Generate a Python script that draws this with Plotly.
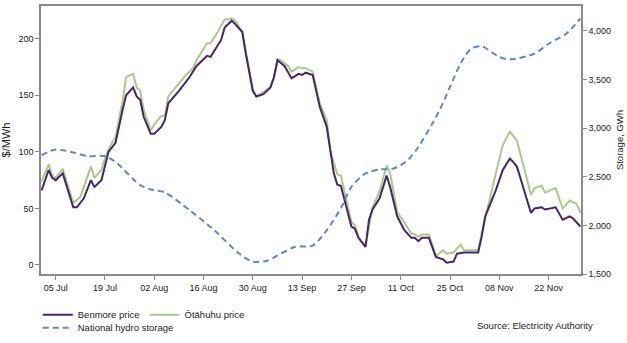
import pandas as pd
import plotly.graph_objects as go

BASE = "2024-07-01"

# Benmore price ($/MWh): day offsets from 1 Jul and values
benmore_day = [0,2,3,4,6,8,9,10,12,14,15,17,18,19,21,22,23,24,26,27,28,29,31,32,34,35,36,39,42,44,
               47,48,51,52,54,55,57,58,60,61,63,65,66,67,69,71,73,74,75,77,79,81,82,83,84,85,88,89,90,92,
               93,94,96,98,99,101,103,105,106,107,108,110,112,114,115,117,118,120,124,125,126,129,131,133,134,135,139,140,142,143,
               146,148,150,151,153]
benmore_val = [66,84,77,75,81,60,51,51,59,75,69,75,87,100,108,124,137,150,157,149,146,131,116,116,122,128,143,154,166,176,
               185,184,199,210,216,213,206,187,154,149,151,157,166,181,176,165,169,168,170,168,140,122,101,81,71,70,34,32,24,16,
               40,49,59,79,69,43,31,24,24,21,24,24,7,5,2,3,10,11,11,25,43,66,84,94,91,87,46,50,51,49,
               51,40,43,41,34]

# Ōtāhuhu price ($/MWh)
otahuhu_day = [0,2,3,4,6,8,9,11,14,15,17,18,19,20,21,23,24,26,27,28,
               29,31,32,34,35,36,38,41,43,44,47,48,50,52,54,55,57,58,60,61,
               65,66,67,68,70,71,73,74,75,77,79,81,82,84,85,88,89,90,92,94,
               96,98,99,101,105,106,107,108,110,112,114,115,117,119,120,124,125,129,131,133,
               135,139,140,142,143,146,148,150,152,153]
otahuhu_val = [74,89,79,77,85,65,55,60,87,77,84,94,102,108,113,145,166,169,157,154,
               137,119,124,132,132,149,157,168,174,181,196,196,206,217,218,216,206,188,154,149,
               157,166,182,181,176,171,175,174,174,171,143,128,101,80,79,38,35,25,16,51,
               65,88,81,47,28,27,25,27,27,8,13,10,11,18,13,13,28,81,106,118,
               110,62,68,70,64,68,50,57,54,46]

# National hydro storage (GWh)
storage_day = [0,4,9,13,18,21,28,31,35,42,49,56,60,64,72,77,81,85,88,92,96,100,104,107,111,113,116,119,122,125,130,133,140,144,149,153]
storage_val = [2722,2781,2750,2712,2712,2653,2414,2370,2339,2157,1952,1713,1626,1637,1780,1792,1952,2175,2397,2534,
               2575,2586,2671,2807,3048,3184,3424,3664,3818,3842,3732,3708,3767,3869,3972,4126]

def to_dates(days):
    return pd.Timestamp(BASE) + pd.to_timedelta(days, unit="D")

PURPLE = "#4b2466"
GREEN = "#a8c98b"
BLUE = "#5d87c6"
FONT = "Liberation Sans, Arial, sans-serif"
AXC = "#8a8a8a"

fig = go.Figure()
fig.add_trace(go.Scatter(x=to_dates(otahuhu_day), y=otahuhu_val, name="Ōtāhuhu price",
                         mode="lines", line=dict(color=GREEN, width=2), legend="legend", legendrank=2))
fig.add_trace(go.Scatter(x=to_dates(benmore_day), y=benmore_val, name="Benmore price",
                         mode="lines", line=dict(color=PURPLE, width=2), legend="legend", legendrank=1))
fig.add_trace(go.Scatter(x=to_dates(storage_day), y=storage_val, name="National hydro storage",
                         mode="lines", line=dict(color=BLUE, width=2, dash="6px,4px", shape="spline", smoothing=0.8),
                         yaxis="y2", legend="legend2"))

fig.update_layout(
    width=627, height=343,
    margin=dict(l=41, r=46, t=6, b=69, autoexpand=False),
    plot_bgcolor="white", paper_bgcolor="white",
    font=dict(family=FONT, size=9, color="#222"),
    xaxis=dict(
        type="date",
        range=["2024-06-30 20:00", "2024-12-01 05:00"],
        tick0="2024-07-05", dtick=14 * 86400000, tickformat="%d %b",
        showgrid=False, zeroline=False,
        showline=True, linecolor=AXC, linewidth=1.5, mirror=True,
        ticks="outside", ticklen=4, tickcolor=AXC,
        tickfont=dict(size=9, color="#222"),
    ),
    yaxis=dict(
        range=[-8, 229], tickvals=[0, 50, 100, 150, 200],
        showgrid=False, zeroline=False,
        showline=True, linecolor=AXC, linewidth=1.5,
        ticks="outside", ticklen=4, tickcolor=AXC,
        tickfont=dict(size=9, color="#222"),
        title=dict(text="$/MWh", font=dict(size=11, color="#222"), standoff=6),
    ),
    yaxis2=dict(
        overlaying="y", side="right",
        range=[1500, 4257], tickvals=[1500, 2000, 2500, 3000, 3500, 4000], tickformat=",d",
        showgrid=False, zeroline=False,
        showline=True, linecolor=AXC, linewidth=1.5,
        ticks="outside", ticklen=4, tickcolor=AXC,
        tickfont=dict(size=9, color="#222"),
        title=dict(text="Storage, GWh", font=dict(size=9.5, color="#222"), standoff=6),
    ),
    legend=dict(orientation="h", x=-0.006, xanchor="left", yref="container", y=0.125, yanchor="top",
                font=dict(size=9.5, color="#222"), bgcolor="rgba(0,0,0,0)",
                traceorder="normal", itemwidth=30, tracegroupgap=0),
    legend2=dict(orientation="h", x=-0.006, xanchor="left", yref="container", y=0.087, yanchor="top",
                 font=dict(size=9.5, color="#222"), bgcolor="rgba(0,0,0,0)", itemwidth=30),
    showlegend=True,
    annotations=[dict(text="Source: Electricity Authority", xref="paper", yref="paper",
                      x=1.025, y=-0.194, xanchor="right", yanchor="middle", showarrow=False,
                      font=dict(size=9.5, color="#222"))],
)

fig.write_html("out.html")
